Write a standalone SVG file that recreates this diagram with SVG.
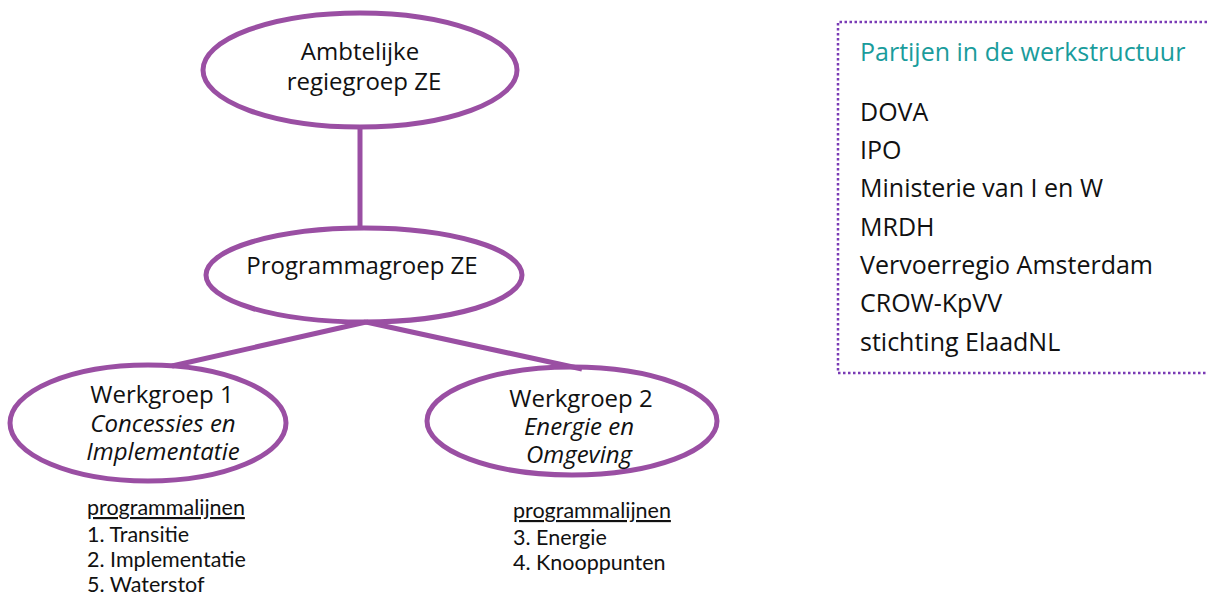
<svg xmlns="http://www.w3.org/2000/svg" width="1207" height="597" viewBox="0 0 1207 597">
<style>
.ell{fill:none;stroke:#9a4fa3;stroke-width:5}
.con{stroke:#9a4fa3;stroke-width:5;fill:none}
.t{font-family:"Open Sans","Noto Sans",sans-serif;font-size:24px;fill:#111;text-anchor:middle}
.i{font-style:italic}
.l{font-family:Lato,"Liberation Sans",sans-serif;font-size:21.5px;fill:#111}
.r{font-family:"Open Sans","Noto Sans",sans-serif;font-size:25px;fill:#111}
.h{fill:#1a9c9c}
</style>
<rect width="1207" height="597" fill="#fff"/>
<g id="connectors">
<line class="con" x1="360" y1="127" x2="360" y2="230"/>
<line class="con" x1="366" y1="322" x2="172" y2="366"/>
<line class="con" x1="366" y1="322" x2="582" y2="369"/>
</g>
<g id="n1">
<ellipse class="ell" cx="360" cy="70" rx="157" ry="57"/>
<text class="t" x="360" y="60">Ambtelijke</text>
<text class="t" x="364" y="90">regiegroep ZE</text>
</g>
<g id="n2">
<ellipse class="ell" cx="364" cy="275" rx="158" ry="47"/>
<text class="t" x="362" y="274">Programmagroep ZE</text>
</g>
<g id="n3">
<ellipse class="ell" cx="148" cy="423" rx="138" ry="58"/>
<text class="t" x="162" y="403">Werkgroep 1</text>
<text class="t i" x="163" y="432">Concessies en</text>
<text class="t i" x="163" y="460">Implementatie</text>
</g>
<g id="n4">
<ellipse class="ell" cx="572" cy="421" rx="145" ry="54"/>
<text class="t" x="581" y="407">Werkgroep 2</text>
<text class="t i" x="579" y="435">Energie en</text>
<text class="t i" x="579" y="463">Omgeving</text>
</g>
<g id="list1">
<text class="l" x="87" y="515" text-decoration="underline">programmalijnen</text>
<text class="l" x="87" y="542">1. Transitie</text>
<text class="l" x="87" y="567">2. Implementatie</text>
<text class="l" x="87" y="592">5. Waterstof</text>
</g>
<g id="list2">
<text class="l" x="513" y="518" text-decoration="underline">programmalijnen</text>
<text class="l" x="513" y="545">3. Energie</text>
<text class="l" x="513" y="570">4. Knooppunten</text>
</g>
<g id="legend">
<path d="M1207 22 H838 V373 H1207" fill="none" stroke="#7a3bb5" stroke-width="2.5" stroke-dasharray="2.5 2.5"/>
<text class="r h" x="860" y="61">Partijen in de werkstructuur</text>
<text class="r" x="860" y="121">DOVA</text>
<text class="r" x="860" y="159">IPO</text>
<text class="r" x="860" y="197">Ministerie van I en W</text>
<text class="r" x="860" y="236">MRDH</text>
<text class="r" x="860" y="274">Vervoerregio Amsterdam</text>
<text class="r" x="860" y="312">CROW-KpVV</text>
<text class="r" x="860" y="351">stichting ElaadNL</text>
</g>
</svg>
